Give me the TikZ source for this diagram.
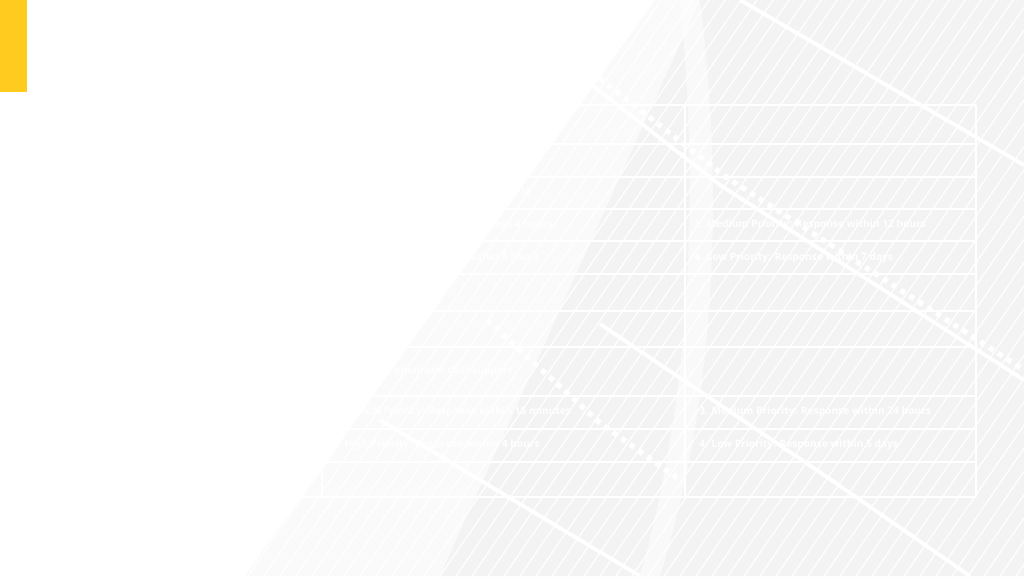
\documentclass[tikz,border=0pt]{standalone}
\usepackage{fontspec}
\setmainfont{Open Sans}
\definecolor{packyellow}{HTML}{FFCB1E}
\definecolor{photogray}{HTML}{F3F3F3}
\tikzset{
  titletext/.style={anchor=west, inner sep=0pt, text=white, font=\bfseries\fontsize{15}{18}\selectfont},
  headtext/.style={anchor=west, inner sep=0pt, text=white, font=\bfseries\fontsize{9}{11}\selectfont},
  cattext/.style={anchor=west, inner sep=0pt, text=white, font=\bfseries\fontsize{8.3}{10}\selectfont},
  celltext/.style={anchor=west, inner sep=0pt, text=white, font=\bfseries\fontsize{5.8}{8}\selectfont},
  gridline/.style={white, line width=0.7pt},
  slab/.style={white, line width=2.2pt},
  slabdash/.style={white, line width=3pt, dash pattern=on 3pt off 3pt},
}
\begin{document}
\begin{tikzpicture}[x=0.02cm,y=-0.02cm]
\useasboundingbox (0,0) rectangle (1024,576);
\fill[white] (0,0) rectangle (1024,576);
% building photo behind the table
\begin{scope}
\clip (245,576) -- (655,0) -- (1024,0) -- (1024,576) -- cycle;
\fill[photogray!45] (245,576) -- (655,0) -- (1024,0) -- (1024,576) -- cycle;
\fill[photogray] (440,576) -- (700,0) -- (1024,0) -- (1024,576) -- cycle;
\foreach \x in {-200,-184,...,1024} {\draw[white, line width=0.7pt] (\x,576) -- (\x+397,0);}
\fill[white, opacity=0.5] (700,0) .. controls (725,200) and (715,400) .. (660,576) -- (640,576) .. controls (690,400) and (700,200) .. (680,0) -- cycle;
\draw[slab] (560,60) -- (720,185) -- (1024,380);
\draw[slabdash] (566,52) -- (726,177) -- (1024,370);
\draw[slab] (740,0) -- (1024,165);
\draw[slabdash] (487,320) -- (600,423) -- (680,480);
\draw[slab] (600,324) -- (827,477) -- (970,576);
\draw[slab] (380,420) -- (640,576);
\end{scope}
% yellow accent bar and title
\fill[packyellow] (0,0) rectangle (27,92);
\node[titletext] (title) at (59,48) {SUPPORT PACKAGES};
% table grid
\foreach \y in {105,144,177,209,241,274,311,347,396,429,462,497} {\draw[gridline] (58,\y) -- (976,\y);}
\foreach \x in {322,685,976} {\draw[gridline] (\x,105) -- (\x,497);}
% header row
\node[headtext] (cat) at (67,125) {Category};
\node[headtext] (desc) at (331,125) {Description};
% basic package
\node[cattext] (accessA) at (67,178) {Support Access \& Availability};
\node[cattext] (basic) at (67,243) {Basic Support Package};
\node[celltext] (m1) at (332,160) {Email and ticket-based support};
\node[celltext] (m2) at (332,193) {Available Monday -- Friday, 9 AM -- 5 PM};
\node[celltext] (m3) at (332,225) {1. Critical Priority: Response within 4 hours};
\node[celltext] (m4) at (332,258) {2. High Priority: Response within 8 hours};
\node[celltext] (r1) at (694,225) {3. Medium Priority: Response within 12 hours};
\node[celltext] (r2) at (694,258) {4. Low Priority: Response within 7 days};
% advanced package
\node[cattext] (accessB) at (67,371) {Support Access \& Availability};
\node[cattext] (advanced) at (67,429) {Advanced Support Package};
\node[celltext] (m5) at (332,371) {24/7 phone, email and chat support};
\node[celltext] (m6) at (332,412) {1. Critical Priority: Response within 15 minutes};
\node[celltext] (m7) at (332,445) {2. High Priority: Response within 4 hours};
\node[celltext] (r3) at (699,412) {3. Medium Priority: Response within 24 hours};
\node[celltext] (r4) at (699,445) {4. Low Priority: Response within 5 days};
\end{tikzpicture}
\end{document}
